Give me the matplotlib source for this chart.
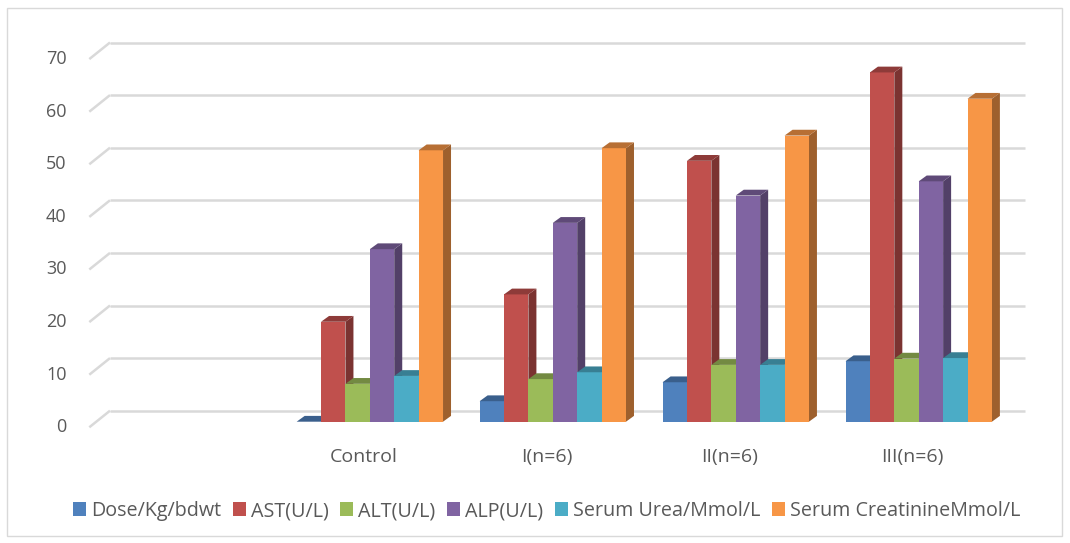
import numpy as np
import matplotlib
matplotlib.use("Agg")
import matplotlib.pyplot as plt
from matplotlib.patches import Polygon, Rectangle, Patch
from matplotlib.transforms import offset_copy
from matplotlib.colors import to_rgb

# ---- data -------------------------------------------------------------
categories = ["", "Control", "I(n=6)", "II(n=6)", "III(n=6)"]
series = ["Dose/Kg/bdwt", "AST(U/L)", "ALT(U/L)", "ALP(U/L)",
          "Serum Urea/Mmol/L", "Serum CreatinineMmol/L"]
dose = [np.nan, 0.0, 3.9, 7.5, 11.5]
ast = [np.nan, 19.0, 24.2, 49.6, 66.4]
alt = [np.nan, 7.2, 8.1, 10.8, 12.0]
alp = [np.nan, 32.8, 37.8, 43.0, 45.7]
urea = [np.nan, 8.7, 9.4, 10.8, 12.1]
creat = [np.nan, 51.6, 52.0, 54.4, 61.4]
yticks = [0, 10, 20, 30, 40, 50, 60, 70]

colors = ["#4F81BD", "#C0504D", "#9BBB59", "#8064A2", "#4BACC6", "#F79646"]
text_color = "#595959"
grid_color = "#d9d9d9"

# ---- figure / axes ----------------------------------------------------
W, H = 1070, 543
DPI = 100
plt.rcParams["font.family"] = ["Open Sans", "DejaVu Sans"]
fig = plt.figure(figsize=(W / DPI, H / DPI), dpi=DPI)

ax_left, ax_right = 95.4, 1010.2      # bar plane, pixels
ax_top, ax_bottom = 53.5, 421.7
ax = fig.add_axes([ax_left / W, 1 - ax_bottom / H,
                   (ax_right - ax_left) / W, (ax_bottom - ax_top) / H])
xmin, xmax = -0.5, len(categories) - 0.5
ax.set_xlim(xmin, xmax)
ax.set_ylim(0, 70)
ax.set_axis_off()

# pixel -> data conversion factors
sx = (xmax - xmin) / (ax_right - ax_left)
sy = 70 / (ax_bottom - ax_top)

# depth offsets in pixels (x right, y up)
bar_depth = (8.0, 5.8)
wall = (14.6, 11.0)
front = (-6.1, -5.6)

wall_tr = offset_copy(ax.transData, fig=fig, x=wall[0], y=wall[1], units="dots")

# back-wall gridlines and the diagonal floor ticks on the left side
for v in yticks:
    ax.plot([xmin, xmax], [v, v], transform=wall_tr, color=grid_color,
            lw=1.8, solid_capstyle="butt", clip_on=False, zorder=0)
    x0f = xmin + front[0] * sx
    y0f = v + front[1] * sy
    x0w = xmin + wall[0] * sx
    y0w = v + wall[1] * sy
    ax.plot([x0f, x0w], [y0f, y0w], color=grid_color, lw=1.8,
            solid_capstyle="butt", clip_on=False, zorder=0)
    ax.text(xmin, v, str(v), transform=offset_copy(
        ax.transData, fig=fig, x=front[0] - 22.6, y=front[1], units="dots"),
        ha="right", va="center", fontsize=13, color=text_color)

# category labels along the front floor edge
for i, c in enumerate(categories):
    ax.text(i, 0, c, transform=offset_copy(
        ax.transData, fig=fig, x=front[0], y=-35.3, units="dots"),
        ha="center", va="center", fontsize=14, color=text_color)


def shade(color, f):
    r, g, b = to_rgb(color)
    return (r * f, g * f, b * f)


# ---- 3-D looking clustered columns -----------------------------------
values = [dose, ast, alt, alp, urea, creat]
n = len(series)
group = 0.80
bw = group / n
ddx, ddy = bar_depth[0] * sx, bar_depth[1] * sy

z = 1
for i in range(len(categories)):
    for s in range(n):
        h = values[s][i]
        if np.isnan(h):
            continue
        x0 = i - group / 2 + s * bw
        x1 = x0 + bw
        col = colors[s]
        # right side face
        ax.add_patch(Polygon([(x1, 0), (x1 + ddx, ddy), (x1 + ddx, h + ddy), (x1, h)],
                             closed=True, facecolor=shade(col, 0.64),
                             edgecolor="none", clip_on=False, zorder=z))
        # front face
        ax.add_patch(Rectangle((x0, 0), bw, h, facecolor=col, edgecolor="none",
                               clip_on=False, zorder=z))
        # top face
        ax.add_patch(Polygon([(x0, h), (x1, h), (x1 + ddx, h + ddy), (x0 + ddx, h + ddy)],
                             closed=True, facecolor=shade(col, 0.74),
                             edgecolor="none", clip_on=False, zorder=z))
        z += 1

# ---- legend -------------------------------------------------------------
handles = [Patch(facecolor=c, edgecolor="none") for c in colors]
fig.legend(handles, series, loc="center", bbox_to_anchor=(546.5 / W, 1 - 511 / H),
           ncol=n, frameon=False, fontsize=14.2, labelcolor=text_color,
           handlelength=0.66, handleheight=0.66, handletextpad=0.26,
           columnspacing=0.58, borderpad=0, borderaxespad=0)

# chart border
fig.add_artist(Rectangle((7 / W, 1 - 536 / H), (1062 - 7) / W, (536 - 8) / H,
                         transform=fig.transFigure, fill=False,
                         edgecolor=grid_color, lw=1))

fig.savefig("out.png", dpi=DPI)
